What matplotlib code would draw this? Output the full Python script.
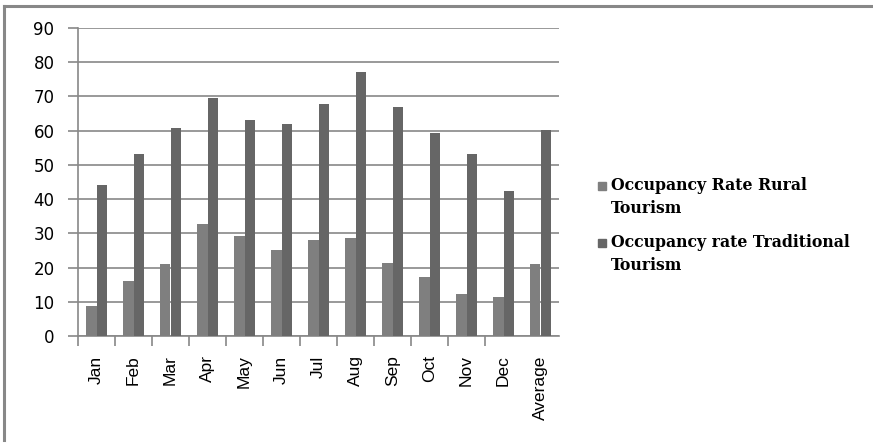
import numpy as np
import matplotlib
matplotlib.use("Agg")
import matplotlib.pyplot as plt
from matplotlib.lines import Line2D
from matplotlib.patches import Rectangle

# values
months = ["Jan", "Feb", "Mar", "Apr", "May", "Jun", "Jul", "Aug", "Sep", "Oct", "Nov", "Dec", "Average"]
rural = [8.8, 16.1, 21.1, 32.7, 29.2, 25.1, 28.1, 28.7, 21.3, 17.3, 12.3, 11.4, 21.1]
traditional = [44.2, 53.2, 60.9, 69.6, 63.2, 62.0, 67.8, 77.2, 67.0, 59.4, 53.2, 42.4, 60.2]
series_names = ["Occupancy Rate Rural\nTourism", "Occupancy rate Traditional\nTourism"]
colors = ["#7f7f7f", "#666666"]
grey = "#888888"

W, H = 873, 443
fig = plt.figure(figsize=(W / 100, H / 100), dpi=100)
ax = fig.add_axes([78 / W, 1 - 336 / H, (559 - 78) / W, (336 - 28) / H])

x = np.arange(len(months))
bw = 0.285
ax.bar(x - bw / 2, rural, bw, color=colors[0], zorder=3)
ax.bar(x + bw / 2, traditional, bw, color=colors[1], zorder=3)

ax.set_xlim(-0.5, len(months) - 0.5)
ax.set_ylim(0, 90)
ax.set_yticks(np.arange(0, 91, 10))
ax.yaxis.grid(True, color=grey, lw=1.2, zorder=0)
ax.tick_params(axis="y", direction="out", length=7, width=1.2, color=grey,
               labelsize=12, pad=10)
for lab in ax.get_yticklabels():
    lab.set_family("DejaVu Sans")

ax.set_xticks(x)
ax.set_xticklabels(months, rotation=90, family="Liberation Sans", fontsize=12.5)
# the source only shows divider ticks up to the Oct/Nov boundary
ax.set_xticks(np.arange(-0.5, 11, 1), minor=True)
ax.tick_params(axis="x", which="major", length=0, pad=14)
ax.tick_params(axis="x", which="minor", direction="out", length=7, width=1.2, color=grey)

for side in ["top", "right"]:
    ax.spines[side].set_visible(False)
for side in ["left", "bottom"]:
    ax.spines[side].set_color(grey)
    ax.spines[side].set_linewidth(1.2)

# legend drawn by hand so the square sits at the first text line
leg_y = [186, 243]
for name, c, yy in zip(series_names, colors, leg_y):
    fig.add_artist(Rectangle((598 / W, 1 - (yy + 4) / H), 8 / W, 8 / H,
                             transform=fig.transFigure, color=c))
    fig.text(611 / W, 1 - (yy - 9) / H, name, family="DejaVu Serif", fontsize=11.3,
             fontweight="bold", va="top", ha="left", linespacing=1.45)

# outer frame (top and left only)
fig.add_artist(Line2D([4 / W, 1], [1 - 5.5 / H, 1 - 5.5 / H], color=grey, lw=2.2,
                      transform=fig.transFigure))
fig.add_artist(Line2D([4 / W, 4 / W], [1 - 5.5 / H, 1 - 440 / H], color=grey, lw=2.2,
                      transform=fig.transFigure))

fig.savefig("out.png", dpi=100)
